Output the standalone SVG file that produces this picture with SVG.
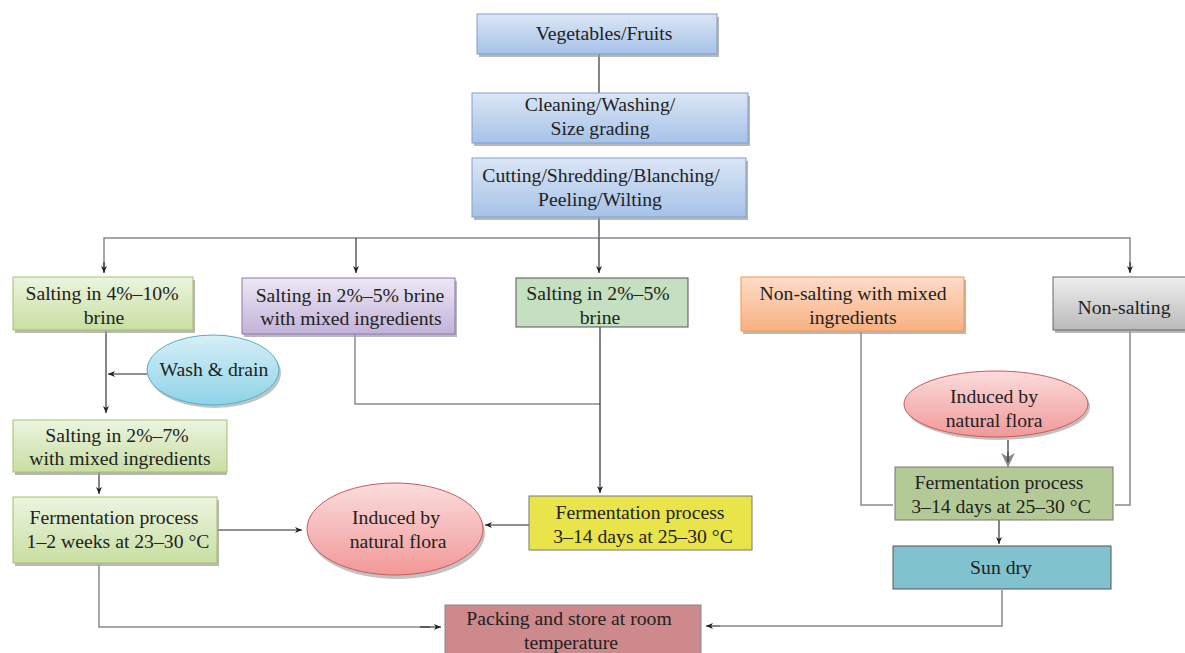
<svg xmlns="http://www.w3.org/2000/svg" width="1185" height="653" viewBox="0 0 1185 653">
<style>
text{font-family:"Liberation Serif","Times New Roman",serif;font-size:19.7px;fill:#222;text-anchor:middle}
.ln{fill:none;stroke:#222;stroke-width:1.1}
.lg{fill:none;stroke:#8a8a8a;stroke-width:1.5}
.sh{fill:#9a9a9a;opacity:.7}
</style>
<defs>
<linearGradient id="gBlue" x1="0" y1="0" x2="0" y2="1"><stop offset="0" stop-color="#dbe6f5"/><stop offset="1" stop-color="#a6c2e8"/></linearGradient>
<linearGradient id="gGreen" x1="0" y1="0" x2="0" y2="1"><stop offset="0" stop-color="#ecf4e0"/><stop offset="1" stop-color="#c8dfa2"/></linearGradient>
<linearGradient id="gPurple" x1="0" y1="0" x2="0" y2="1"><stop offset="0" stop-color="#ede8f3"/><stop offset="1" stop-color="#c2b2da"/></linearGradient>
<linearGradient id="gOrange" x1="0" y1="0" x2="0" y2="1"><stop offset="0" stop-color="#fddcc9"/><stop offset="1" stop-color="#f8b182"/></linearGradient>
<linearGradient id="gGray" x1="0" y1="0" x2="0" y2="1"><stop offset="0" stop-color="#efefef"/><stop offset="1" stop-color="#b9b9b9"/></linearGradient>
<linearGradient id="gCyan" x1="0" y1="0" x2="0" y2="1"><stop offset="0" stop-color="#d6eff7"/><stop offset="1" stop-color="#8dd3e7"/></linearGradient>
<linearGradient id="gPink" x1="0" y1="0" x2="0" y2="1"><stop offset="0" stop-color="#fbdcdc"/><stop offset="1" stop-color="#f29898"/></linearGradient>
<marker id="ah" markerWidth="8" markerHeight="8" refX="7" refY="4" orient="auto" markerUnits="userSpaceOnUse"><path d="M0,1 L7,4 L0,7 L2,4 Z" fill="#222"/></marker>
<marker id="ahBig" markerWidth="16" markerHeight="14" refX="14" refY="7" orient="auto" markerUnits="userSpaceOnUse"><path d="M0,0 L14,7 L0,14 L4,7 Z" fill="#8a8a8a"/></marker>
</defs>

<g id="connectors">
<path class="ln" d="M599,54 V93"/>
<path class="ln" d="M599,217 V238"/>
<path class="lg" d="M104,272 V238 H1130 V272"/>
<path class="ln" d="M104,262 V273" marker-end="url(#ah)"/>
<path class="ln" d="M1130,262 V273" marker-end="url(#ah)"/>
<path class="ln" d="M356,238 V273" marker-end="url(#ah)"/>
<path class="ln" d="M599,238 V273" marker-end="url(#ah)"/>
<path class="ln" d="M106,331 V413" marker-end="url(#ah)"/>
<path class="ln" d="M147,374 H108" marker-end="url(#ah)"/>
<path class="ln" d="M99,472 V494" marker-end="url(#ah)"/>
<path class="ln" d="M217,530 H302" marker-end="url(#ah)"/>
<path class="ln" d="M529,525 H485" marker-end="url(#ah)"/>
<path class="lg" d="M355,335 V404 H600"/>
<path class="ln" d="M600,327 V493" marker-end="url(#ah)"/>
<path class="lg" d="M99,565 V627 H430"/>
<path class="ln" d="M420,627 H441" marker-end="url(#ah)"/>
<path class="lg" d="M1002,590 V626 H720"/>
<path class="ln" d="M720,626 H706" marker-end="url(#ah)"/>
<path class="lg" d="M861,332 V505 H893"/>
<path class="lg" d="M1130,331 V505 H1115"/>
<path class="lg" d="M1008,452 V467" marker-end="url(#ahBig)" stroke-width="2"/>
<path class="ln" d="M1008,440 V462" stroke-width="1.6"/>
<path class="ln" d="M999,520 V544" marker-end="url(#ah)"/>
</g>

<g id="n-vegetables">
<rect class="sh" x="479" y="17" width="240" height="40"/>
<rect x="477" y="14" width="240" height="40" fill="url(#gBlue)" stroke="#7f9fcb"/>
<text x="604" y="40">Vegetables/Fruits</text>
</g>
<g id="n-cleaning">
<rect class="sh" x="474" y="96" width="276" height="50"/>
<rect x="472" y="93" width="276" height="50" fill="url(#gBlue)" stroke="#7f9fcb"/>
<text x="600" y="111">Cleaning/Washing/</text>
<text x="600" y="135">Size grading</text>
</g>
<g id="n-cutting">
<rect class="sh" x="474" y="161" width="274" height="59"/>
<rect x="472" y="158" width="274" height="59" fill="url(#gBlue)" stroke="#7f9fcb"/>
<text x="601" y="182">Cutting/Shredding/Blanching/</text>
<text x="600" y="206">Peeling/Wilting</text>
</g>

<g id="n-salt4-10">
<rect class="sh" x="15" y="280" width="180" height="53"/>
<rect x="13" y="277" width="180" height="53" fill="url(#gGreen)" stroke="#a4c168"/>
<text x="102" y="300">Salting in 4%–10%</text>
<text x="104" y="324">brine</text>
</g>
<g id="n-salt2-5mix">
<rect class="sh" x="244" y="281" width="213" height="56"/>
<rect x="242" y="278" width="213" height="56" fill="url(#gPurple)" stroke="#8f74b0"/>
<text x="350" y="302">Salting in 2%–5% brine</text>
<text x="351" y="325">with mixed ingredients</text>
</g>
<g id="n-salt2-5">
<rect x="516" y="278" width="172" height="49" fill="#c4e0c0" stroke="#555"/>
<text x="598" y="300">Salting in 2%–5%</text>
<text x="600" y="324">brine</text>
</g>
<g id="n-nonsalt-mix">
<rect class="sh" x="743" y="280" width="223" height="54"/>
<rect x="741" y="277" width="223" height="54" fill="url(#gOrange)" stroke="#f79646"/>
<text x="853" y="300">Non-salting with mixed</text>
<text x="853" y="324">ingredients</text>
</g>
<g id="n-nonsalt">
<rect class="sh" x="1055" y="280" width="132" height="53"/>
<rect x="1053" y="277" width="134" height="53" fill="url(#gGray)" stroke="#666"/>
<text x="1124" y="314">Non-salting</text>
</g>

<g id="n-wash">
<ellipse cx="215" cy="373" rx="66" ry="35" fill="#9a9a9a" opacity=".6"/>
<ellipse cx="213" cy="370" rx="66" ry="35" fill="url(#gCyan)" stroke="#52b0c8"/>
<text x="214" y="376">Wash &amp; drain</text>
</g>
<g id="n-salt2-7">
<rect class="sh" x="15" y="423" width="212" height="52"/>
<rect x="13" y="420" width="214" height="52" fill="url(#gGreen)" stroke="#a4c168"/>
<text x="117" y="442">Salting in 2%–7%</text>
<text x="120" y="465">with mixed ingredients</text>
</g>
<g id="n-ferm-weeks">
<rect class="sh" x="15" y="500" width="204" height="66"/>
<rect x="13" y="497" width="204" height="66" fill="url(#gGreen)" stroke="#a4c168"/>
<text x="114" y="524">Fermentation process</text>
<text x="118" y="548">1–2 weeks at 23–30 °C</text>
</g>
<g id="n-induced-mid">
<ellipse cx="397" cy="533" rx="88" ry="46" fill="#9a9a9a" opacity=".6"/>
<ellipse cx="395" cy="529" rx="88" ry="46" fill="url(#gPink)" stroke="#c95a5a"/>
<text x="396" y="524">Induced by</text>
<text x="398" y="548">natural flora</text>
</g>
<g id="n-ferm-yellow">
<rect x="529" y="496" width="223" height="54" fill="#e8e44a" stroke="#777"/>
<text x="640" y="519">Fermentation process</text>
<text x="643" y="543">3–14 days at 25–30 °C</text>
</g>
<g id="n-induced-right">
<ellipse cx="998" cy="407" rx="92" ry="33" fill="#9a9a9a" opacity=".6"/>
<ellipse cx="996" cy="404" rx="92" ry="33" fill="url(#gPink)" stroke="#c95a5a"/>
<text x="994" y="403">Induced by</text>
<text x="994" y="427">natural flora</text>
</g>
<g id="n-ferm-right">
<rect x="895" y="467" width="218" height="53" fill="#b4ca96" stroke="#777"/>
<text x="999" y="489">Fermentation process</text>
<text x="1001" y="513">3–14 days at 25–30 °C</text>
</g>
<g id="n-sundry">
<rect x="893" y="546" width="218" height="43" fill="#81c2cf" stroke="#555"/>
<text x="1001" y="574">Sun dry</text>
</g>
<g id="n-packing">
<rect x="445" y="605" width="256" height="52" fill="#cd898c" stroke="#888"/>
<text x="569" y="625">Packing and store at room</text>
<text x="571" y="649">temperature</text>
</g>
</svg>
